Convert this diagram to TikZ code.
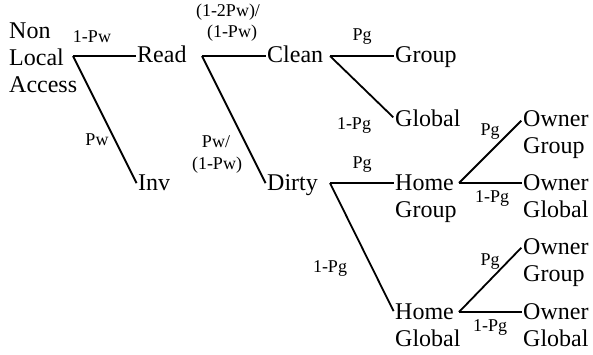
\documentclass[tikz,border=0pt]{standalone}
\usepackage{fontspec}
\setmainfont{Liberation Serif}
\begin{document}
\begin{tikzpicture}[x=1pt,y=-1pt,
  big/.style={font=\fontsize{24}{27}\selectfont, inner sep=0pt, anchor=base west},
  lbl/.style={font=\fontsize{18}{20}\selectfont, inner sep=0pt},
  branch/.style={line width=1.8pt, shorten >=1pt}]
\useasboundingbox (0,0) rectangle (593,354);
% main texts
\node[big] (non) at (9,38) {Non};
\node[big] (local) at (9,65) {Local};
\node[big] (access) at (9,92) {Access};
\node[big] (read) at (137,62) {Read};
\node[big] (inv) at (138,190) {Inv};
\node[big] (clean) at (267,62) {Clean};
\node[big] (dirty) at (267,190) {Dirty};
\node[big] (group) at (395,62) {Group};
\node[big] (global) at (395,126) {Global};
\node[big] (hg1) at (395,190) {Home};
\node[big] (hg2) at (395,217) {Group};
\node[big] (hgl1) at (395,319) {Home};
\node[big] (hgl2) at (395,346) {Global};
\node[big] (og1) at (523,126) {Owner};
\node[big] (og2) at (523,153) {Group};
\node[big] (ogl1) at (523,190) {Owner};
\node[big] (ogl2) at (523,217) {Global};
\node[big] (og3) at (523,254) {Owner};
\node[big] (og4) at (523,281) {Group};
\node[big] (ogl3) at (523,319) {Owner};
\node[big] (ogl4) at (523,346) {Global};
% junctions
\coordinate (j0) at (73,56);
\coordinate (j1) at (202,56);
\coordinate (j2) at (330,56);
\coordinate (j3) at (330,183);
\coordinate (j4) at (459,183);
\coordinate (j5) at (459,312);
% branches
\draw[branch] (j0) -- (read.west |- j0);
\draw[branch] (j0) -- ([shift={(-1pt,6pt)}]inv.base west);
\draw[branch] (j1) -- (clean.west |- j1);
\draw[branch] (j1) -- ([shift={(-1pt,6pt)}]dirty.base west);
\draw[branch] (j2) -- (group.west |- j2);
\draw[branch] (j2) -- ([shift={(-1pt,8pt)}]global.base west);
\draw[branch] (j3) -- (hg1.west |- j3);
\draw[branch] (j3) -- ([shift={(-1pt,7pt)}]hgl1.base west);
\draw[branch] (j4) -- (ogl1.west |- j4);
\draw[branch] (j4) -- ([shift={(-1pt,6pt)}]og1.base west);
\draw[branch] (j5) -- (ogl3.west |- j5);
\draw[branch] (j5) -- ([shift={(-1pt,7pt)}]og3.base west);
% labels
\node[lbl] (l1) at (92,37) {1-Pw};
\node[lbl] (l2) at (97,140) {Pw};
\node[lbl] (l3a) at (228,12) {(1-2Pw)/};
\node[lbl] (l3b) at (232,33) {(1-Pw)};
\node[lbl] (l4a) at (216,142) {Pw/};
\node[lbl] (l4b) at (217,165) {(1-Pw)};
\node[lbl] (l5) at (362,37) {Pg};
\node[lbl] (l6) at (354,125) {1-Pg};
\node[lbl] (l7) at (362,165) {Pg};
\node[lbl] (l8) at (330,268) {1-Pg};
\node[lbl] (l9) at (490,132) {Pg};
\node[lbl] (l10) at (492,198) {1-Pg};
\node[lbl] (l11) at (490,262) {Pg};
\node[lbl] (l12) at (490,327) {1-Pg};
\end{tikzpicture}
\end{document}
